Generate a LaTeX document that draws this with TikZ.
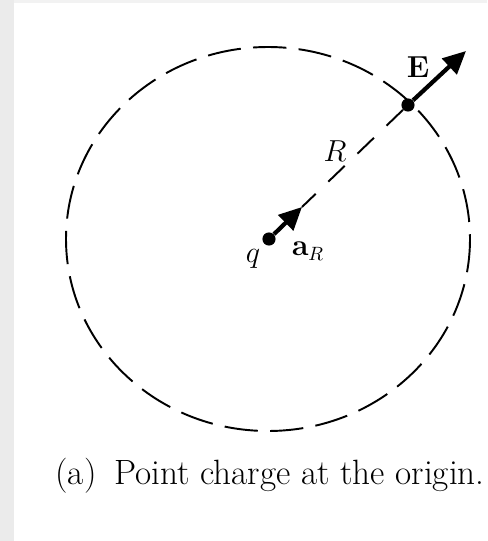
\documentclass[tikz,border=0pt]{standalone}
\usepackage{amsmath}
\usetikzlibrary{arrows.meta}
\tikzset{
  charge/.style={circle,fill=black,inner sep=0pt,minimum size=7.5pt},
  vecarrow/.style={line width=2.4pt,-{Triangle[length=13pt,width=12pt]}},
  lbl/.style={inner sep=1pt,font=\fontsize{16}{18}\selectfont}
}
\begin{document}
\begin{tikzpicture}[x=0.02cm,y=-0.02cm]
\useasboundingbox (0,0) rectangle (487,541);
\fill[black!8] (0,0) rectangle (14,541);
\fill[black!5] (14,0) rectangle (487,3);

\draw[line width=1.1pt,dash pattern=on 19 off 7] (268,239) ellipse [x radius=202,y radius=192];

\node[charge] (q) at (269,239) {};
\node[charge] (p) at (408,105) {};
\coordinate (aR) at (302,207);
\coordinate (E) at (466,51);

\draw[line width=1.1pt,dash pattern=on 13 off 10] (p) -- (aR);
\draw[vecarrow] (q) -- (aR);
\draw[vecarrow] (p) -- (E);

\node[lbl] (Elbl) at (418,67) {$\mathbf{E}$};
\node[lbl] (Rlbl) at (335,151) {$R$};
\node[lbl] (qlbl) at (253,259) {$q$};
\node[lbl] (alb) at (308,251) {$\mathbf{a}_R$};

\node (cap) at (270,476) {\fontsize{20}{24}\selectfont (a)\enspace Point charge at the origin.};
\end{tikzpicture}
\end{document}
